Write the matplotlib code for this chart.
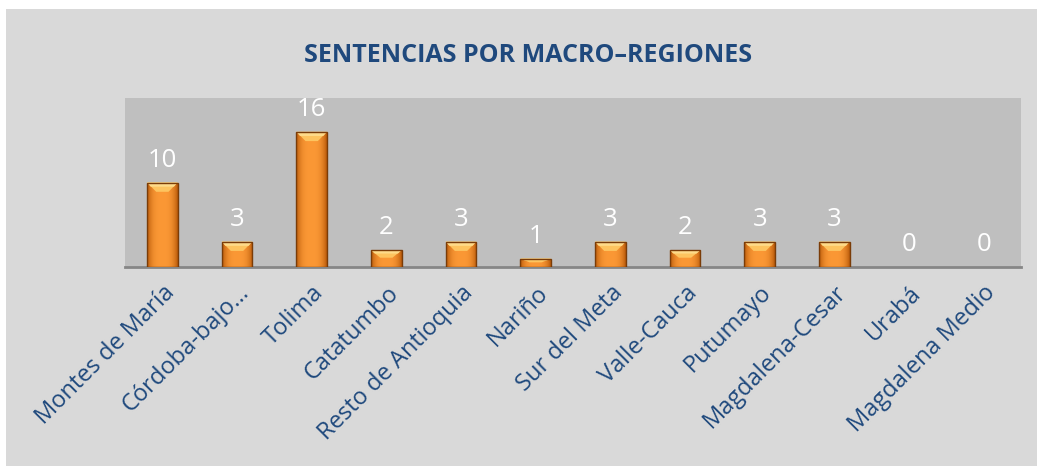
import matplotlib
matplotlib.use("Agg")
import matplotlib.pyplot as plt
import numpy as np
from matplotlib.patches import Rectangle, Polygon
from matplotlib.colors import to_rgb

categories = ["Montes de María", "Córdoba-bajo…", "Tolima", "Catatumbo",
              "Resto de Antioquia", "Nariño", "Sur del Meta", "Valle-Cauca",
              "Putumayo", "Magdalena-Cesar", "Urabá", "Magdalena Medio"]
values = [10, 3, 16, 2, 3, 1, 3, 2, 3, 3, 0, 0]
title = "SENTENCIAS POR MACRO–REGIONES"

FONT = ["Open Sans", "DejaVu Sans"]
BLUE = "#1f497d"

fig = plt.figure(figsize=(10.37, 4.66), dpi=100)
fig.patch.set_facecolor("white")
# gray chart-area background (with thin white margin at left/top)
fig.patches.append(Rectangle((6/1037, 0), 1 - 6/1037, 1 - 9/466,
                             transform=fig.transFigure, facecolor="#d9d9d9",
                             edgecolor="none", zorder=-10))

ax = fig.add_axes([125/1037, (466-267)/466, (1021-125)/1037, (267-98)/466])
ax.set_facecolor("#bfbfbf")
x = np.arange(len(categories))
w = 0.41
ax.set_xlim(-0.5, len(categories) - 0.5)
ax.set_ylim(0, 20)

# horizontal gradient for bar body
n = 64
t = np.linspace(-1, 1, n)
edge = np.array(to_rgb("#b85a0a"))
mid = np.array(to_rgb("#fb9835"))
prof = np.clip(1 - np.abs(t) ** 3, 0, 1)[:, None]
grad = (edge + (mid - edge) * prof)[None, :, :]

bars = ax.bar(x, values, width=w, color="#f39026", edgecolor="none", zorder=2)
for b, v in zip(bars, values):
    if v <= 0:
        continue
    x0, x1 = b.get_x(), b.get_x() + b.get_width()
    im = ax.imshow(grad, extent=(x0, x1, 0, v), aspect="auto", zorder=3,
                   interpolation="bilinear")
    im.set_clip_path(b)
    # top bevel highlight
    bh = min(1.1, v * 0.45)
    inset = b.get_width() * 0.3
    ax.add_patch(Polygon([(x0, v), (x1, v), (x1 - inset, v - bh), (x0 + inset, v - bh)],
                         closed=True, facecolor="#fdc45f", edgecolor="none", zorder=4))
    ax.add_patch(Polygon([(x0, v), (x1, v), (x1 - inset * 0.4, v - bh * 0.45), (x0 + inset * 0.4, v - bh * 0.45)],
                         closed=True, facecolor="#fedb8a", edgecolor="none", zorder=4))
    ax.add_patch(Rectangle((x0, 0), b.get_width(), v, facecolor="none",
                           edgecolor="#7a3c08", linewidth=1.0, zorder=5))

for xi, v in zip(x, values):
    ax.annotate(str(v), (xi, v), xytext=(0, 11.5), textcoords="offset points",
                ha="center", va="baseline", color="white", fontsize=18.5, family=FONT)

for s in ["top", "right", "left"]:
    ax.spines[s].set_visible(False)
ax.spines["bottom"].set_color("#868686")
ax.spines["bottom"].set_linewidth(2)
ax.set_yticks([])
ax.set_xticks(x)
ax.set_xticklabels(categories, rotation=45, ha="right", rotation_mode="anchor",
                   color=BLUE, fontsize=17, family=FONT)
ax.tick_params(axis="x", length=0, pad=10)

fig.text(528/1037, 1 - 56/466, title, ha="center", va="center", color=BLUE,
         fontsize=18, fontweight="bold", family=FONT)

fig.savefig("out.png", dpi=100, facecolor=fig.get_facecolor())
